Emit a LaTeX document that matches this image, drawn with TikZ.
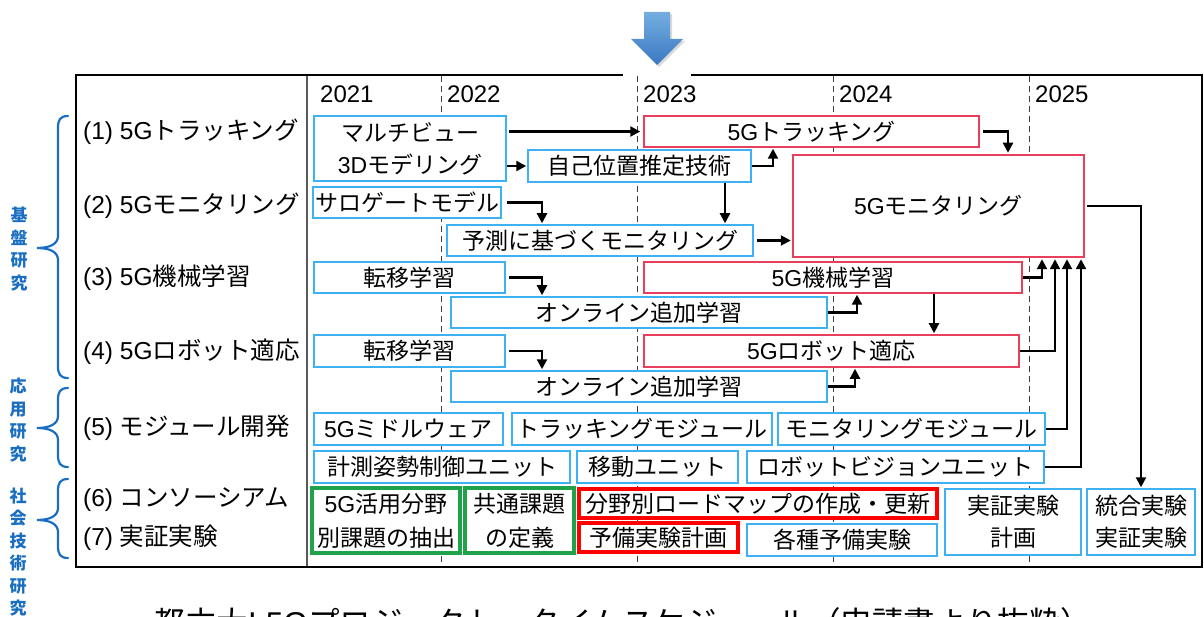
\documentclass[tikz,border=0pt]{standalone}
\usepackage{fontspec}
\setmainfont{Noto Sans CJK JP}
\newfontfamily\lat{Liberation Sans}
\newcommand{\la}[1]{{\lat #1}}
\usetikzlibrary{arrows.meta}
\definecolor{boxblue}{HTML}{3DB1F2}
\definecolor{boxred}{HTML}{E8405C}
\definecolor{boxgreen}{HTML}{1EA34A}
\definecolor{braceblue}{HTML}{1A6EC0}
\definecolor{arrtop}{HTML}{74AEE0}
\definecolor{arrbot}{HTML}{3A78C2}
\newcommand{\bx}[7]{%
  \pgfmathsetmacro\bw{#5-#3}\pgfmathsetmacro\bh{#6-#4}%
  \node[#2,minimum width=\bw pt,minimum height=\bh pt] (#1) at ({(#3+#5)/2},{(#4+#6)/2}) {#7};}
\newcommand{\mybrace}[3]{%
  \draw[bracestyle] (68,#1) .. controls (60,#1) and (58,#1+4) .. (58,#1+12)
    -- (58,#3-12) .. controls (58,#3-4) and (50,#3) .. (37,#3)
    .. controls (50,#3) and (58,#3+4) .. (58,#3+12)
    -- (58,#2-12) .. controls (58,#2-4) and (60,#2) .. (68,#2);}
\begin{document}
\begin{tikzpicture}[x=1pt,y=-1pt,
  txt/.style={font=\fontsize{23}{32}\selectfont, inner sep=0pt, align=center},
  bb/.style={txt, draw=boxblue, line width=1.5pt, fill=white},
  rb/.style={txt, draw=boxred, line width=1.5pt, fill=white},
  rbig/.style={txt, draw=boxred, line width=2.5pt, fill=white},
  gb/.style={txt, draw=boxgreen, line width=3.5pt, fill=white, font=\fontsize{23}{34}\selectfont},
  rt/.style={txt, draw=red, line width=4pt, fill=white},
  lbl/.style={txt, anchor=west, font=\fontsize{24.5}{32}\selectfont},
  yr/.style={txt, anchor=west, font=\fontsize{24}{32}\selectfont},
  arr/.style={line width=2.2pt, -{Triangle[length=10pt,width=10pt]}, shorten >=1pt},
  dashline/.style={draw=black!75, line width=1pt, dash pattern=on 6pt off 4pt},
  bracestyle/.style={draw=braceblue, line width=2.2pt, line cap=round},
  sidetxt/.style={text=braceblue, font=\fontsize{17}{22.5}\selectfont\bfseries, align=center, inner sep=0pt},
]
\useasboundingbox (0,0) rectangle (1204,617);
\clip (0,0) rectangle (1204,617);

% big blue arrow
\fill[black!25, opacity=0.6] (646,14) -- (672,14) -- (672,41) -- (685,41) -- (659,67) -- (633,41) -- (646,41) -- cycle;
\shade[top color=arrtop, bottom color=arrbot] (644,12) -- (670,12) -- (670,39) -- (683,39) -- (657,65) -- (631,39) -- (644,39) -- cycle;

% grid lines
\draw[black!65, line width=1.2pt] (307,76) -- (307,567);
\foreach \xx in {441,637,833,1029} \draw[dashline] (\xx,76) -- (\xx,567);

% frame
\draw[black, line width=2.5pt] (623,75) -- (76,75) -- (76,567) -- (1202,567) -- (1202,75) -- (691,75);

% years
\node[yr] (y1) at (320,94) {\la{2021}};
\node[yr] (y2) at (447,94) {\la{2022}};
\node[yr] (y3) at (643,94) {\la{2023}};
\node[yr] (y4) at (839,94) {\la{2024}};
\node[yr] (y5) at (1035,94) {\la{2025}};

% row labels
\node[lbl] (l1) at (83,132) {\la{(1) 5G}トラッキング};
\node[lbl] (l2) at (83,206) {\la{(2) 5G}モニタリング};
\node[lbl] (l3) at (83,278) {\la{(3) 5G}機械学習};
\node[lbl] (l4) at (83,352) {\la{(4) 5G}ロボット適応};
\node[lbl] (l5) at (83,428) {\la{(5) }モジュール開発};
\node[lbl] (l6) at (83,500) {\la{(6) }コンソーシアム};
\node[lbl] (l7) at (83,538) {\la{(7) }実証実験};

% boxes
\bx{mv}{bb}{314}{116}{506}{181}{マルチビュー\\\la{3D}モデリング}
\bx{tr}{rb}{644}{116}{979}{147}{\la{5G}トラッキング}
\bx{sel}{bb}{528}{150}{751}{182}{自己位置推定技術}
\bx{mon}{rbig}{793}{155}{1084}{257}{\la{5G}モニタリング}
\bx{sur}{bb}{313}{187}{501}{218}{サロゲートモデル}
\bx{pred}{bb}{447}{225}{753}{256}{予測に基づくモニタリング}
\bx{tl3}{bb}{314}{262}{505}{293}{転移学習}
\bx{ml}{rb}{644}{262}{1022}{293}{\la{5G}機械学習}
\bx{ol3}{bb}{451}{297}{827}{328}{オンライン追加学習}
\bx{tl4}{bb}{314}{335}{505}{367}{転移学習}
\bx{rbt}{rb}{644}{335}{1019}{367}{\la{5G}ロボット適応}
\bx{ol4}{bb}{451}{371}{827}{402}{オンライン追加学習}
\bx{mw}{bb}{314}{413}{503}{445}{\la{5G}ミドルウェア}
\bx{tm}{bb}{512}{413}{772}{445}{トラッキングモジュール}
\bx{mm}{bb}{778}{413}{1045}{445}{モニタリングモジュール}
\bx{kc}{bb}{314}{451}{570}{483}{計測姿勢制御ユニット}
\bx{mu}{bb}{577}{451}{738}{483}{移動ユニット}
\bx{rv}{bb}{747}{451}{1044}{483}{ロボットビジョンユニット}
\bx{g1}{gb}{312}{488}{460}{553}{\la{5G}活用分野\\別課題の抽出}
\bx{g2}{gb}{465}{488}{574}{553}{共通課題\\の定義}
\bx{rm}{rt}{579}{489}{937}{518}{分野別ロードマップの作成・更新}
\bx{yb}{rt}{579}{523}{738}{552}{予備実験計画}
\bx{kj}{bb}{747}{524}{937}{556}{各種予備実験}
\bx{jk}{bb}{945}{489}{1081}{555}{実証実験\\計画}
\bx{tg}{bb}{1087}{489}{1195}{555}{統合実験\\実証実験}

% helper x positions
\coordinate (x541) at (542,0);
\coordinate (x725) at (725,0);
\coordinate (x773) at (773,0);
\coordinate (x1008) at (1008,0);
\coordinate (x857) at (857,0);
\coordinate (x855) at (855,0);
\coordinate (x934) at (934,0);
\coordinate (x1042) at (1042,0);
\coordinate (x1055) at (1055,0);
\coordinate (x1067) at (1067,0);
\coordinate (x1081) at (1081,0);

% arrows
\draw[arr, shorten <=2pt, shorten >=3pt] (mv.east |- tr.west) -- (tr.west);
\draw[arr] (mv.east |- sel.west) -- (sel.west);
\draw[arr] (sel.east) -| (x773 |- tr.south);
\draw[arr] (x725 |- sel.south) -- (x725 |- pred.north);
\draw[arr, shorten <=5pt] (sur.east) -| (x541 |- pred.north);
\draw[arr, shorten <=3pt] (pred.east) -- (mon.west |- pred.east);
\draw[arr, shorten <=3pt] (tr.east) -| (x1008 |- mon.north);
\draw[arr, shorten <=2pt] (mon.east) -| (tg.north);
\draw[arr, shorten <=3pt] (tl3.east) -| (x541 |- ol3.north);
\draw[arr] (ol3.east) -| (x857 |- ml.south);
\draw[arr] (x934 |- ml.south) -- (x934 |- rbt.north);
\draw[arr, shorten <=3pt] (tl4.east) -| (x541 |- ol4.north);
\draw[arr] (ol4.east) -| (x855 |- rbt.south);
\draw[arr] (ml.east) -| (x1042 |- mon.south);
\draw[arr] (rbt.east) -| (x1055 |- mon.south);
\draw[arr] (mm.east) -| (x1067 |- mon.south);
\draw[arr] (rv.east) -| (x1081 |- mon.south);

% side braces
\mybrace{116}{378}{248}
\mybrace{388}{467}{428}
\mybrace{479}{558}{520}
\node[sidetxt] (s1) at (19,249) {基\\盤\\研\\究};
\node[sidetxt] (s2) at (18,420) {応\\用\\研\\究};
\node[sidetxt] (s3) at (18,552) {社\\会\\技\\術\\研\\究};

% caption (cut off at the bottom edge, as in the reference)
\node[anchor=base, inner sep=0pt, font=\fontsize{31.5}{36}\selectfont] (cap) at (623,634) {都立大\la{L5G}プロジェクト・タイムスケジュール（申請書より抜粋）};
\end{tikzpicture}
\end{document}
